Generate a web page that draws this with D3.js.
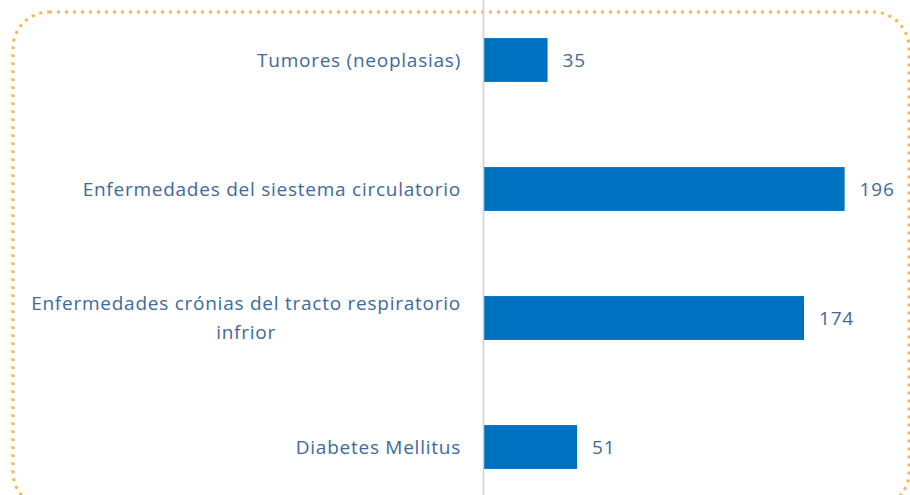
<!DOCTYPE html>
<html>
<head>
<meta charset="utf-8">
<script src="https://cdn.jsdelivr.net/npm/d3@7"></script>
<style>
  html, body { margin: 0; padding: 0; background: #fff; }
  svg { display: block; }
</style>
</head>
<body>
<div id="chart"></div>
<script>
// Data
const categories = [
  'Tumores (neoplasias)',
  'Enfermedades del siestema circulatorio',
  'Enfermedades crónias del tracto respiratorio infrior',
  'Diabetes Mellitus'
];
const labelLines = [
  ['Tumores (neoplasias)'],
  ['Enfermedades del siestema circulatorio'],
  ['Enfermedades crónias del tracto respiratorio', 'infrior'],
  ['Diabetes Mellitus']
];
const values = [35, 196, 174, 51];

const width = 910;
const height = 495;
const axisX = 483;
const barColour = '#0070C0';
const textColour = '#41699A';
const font = '"Open Sans", sans-serif';

const svg = d3.select('#chart')
  .append('svg')
  .attr('width', width)
  .attr('height', height);

// Dotted rounded frame
svg.append('rect')
  .attr('x', 13)
  .attr('y', 12)
  .attr('width', 896)
  .attr('height', 496)
  .attr('rx', 36)
  .attr('fill', 'none')
  .attr('stroke', '#FDB451')
  .attr('stroke-width', 3)
  .attr('stroke-dasharray', '3,5');

// Scales
const x = d3.scaleLinear().domain([0, 200]).range([axisX, axisX + 369]);
const y = d3.scaleBand()
  .domain(categories)
  .range([-4.5, 511.5])
  .paddingInner(0.66)
  .paddingOuter(0.33);

// Bars
svg.selectAll('.bar')
  .data(values)
  .enter().append('rect')
  .attr('class', 'bar')
  .attr('x', x(0))
  .attr('y', (d, i) => y(categories[i]))
  .attr('width', d => x(d) - x(0))
  .attr('height', y.bandwidth())
  .attr('fill', barColour);

// Axis line
svg.append('line')
  .attr('x1', axisX + 0.5)
  .attr('x2', axisX + 0.5)
  .attr('y1', 0)
  .attr('y2', height)
  .attr('stroke', '#D0D0D0')
  .attr('stroke-width', 1.5);

// Value labels
svg.selectAll('.value')
  .data(values)
  .enter().append('text')
  .attr('class', 'value')
  .attr('x', d => x(d) + 15)
  .attr('y', (d, i) => y(categories[i]) + y.bandwidth() / 2)
  .attr('dy', '0.35em')
  .attr('fill', textColour)
  .style('font-family', font)
  .style('font-size', '19px')
  .style('letter-spacing', '0.8px')
  .text(d => d);

// Category labels (multi-line ones are centred within their block)
const labelRight = 461;
const lineGap = 29;
labelLines.forEach((lines, i) => {
  const cy = y(categories[i]) + y.bandwidth() / 2;
  const g = svg.append('g');
  const texts = lines.map((ln, j) => g.append('text')
    .attr('y', cy + (j - (lines.length - 1) / 2) * lineGap)
    .attr('dy', '0.35em')
    .attr('fill', textColour)
    .style('font-family', font)
    .style('font-size', '19px')
    .style('letter-spacing', '0.75px')
    .text(ln));
  if (lines.length === 1) {
    texts[0].attr('x', labelRight).attr('text-anchor', 'end');
  } else {
    const w = d3.max(texts, t => t.node().getComputedTextLength());
    texts.forEach(t => t.attr('x', labelRight - w / 2).attr('text-anchor', 'middle'));
  }
});
</script>
</body>
</html>
